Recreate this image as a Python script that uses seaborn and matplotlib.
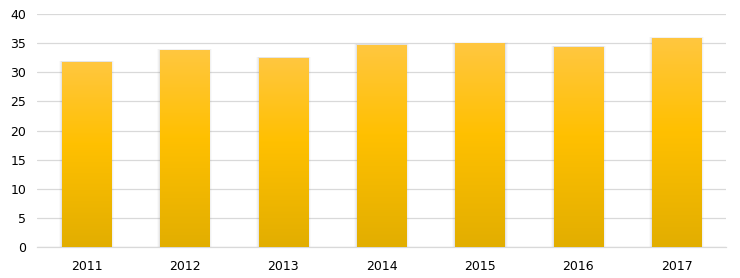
import numpy as np
import pandas as pd
import matplotlib
matplotlib.use("Agg")
import matplotlib.pyplot as plt
import seaborn as sns
from matplotlib.colors import LinearSegmentedColormap

years = ["2011", "2012", "2013", "2014", "2015", "2016", "2017"]
values = [31.8, 33.85, 32.5, 34.75, 35.0, 34.4, 35.9]
yticks = [0, 5, 10, 15, 20, 25, 30, 35, 40]

sns.set_theme(style="white")
plt.rcParams['font.family'] = ['DejaVu Sans']

df = pd.DataFrame({"year": years, "value": values})

fig = plt.figure(figsize=(7.4, 2.78), dpi=100)
ax = fig.add_axes([37.3 / 740, 1 - 247 / 278, (726 - 37.3) / 740, (247 - 14) / 278])

sns.barplot(data=df, x="year", y="value", ax=ax, width=0.5, color="#FFC000",
            edgecolor="none", zorder=3)

cmap = LinearSegmentedColormap.from_list(
    "gold", [(0.0, "#E2AE00"), (0.55, "#FFC000"), (1.0, "#FFC740")])
grad = np.linspace(0, 1, 256).reshape(-1, 1)

for p in ax.patches:
    x0, w, h = p.get_x(), p.get_width(), p.get_height()
    # soft shadow
    for i, a in enumerate([0.04, 0.07, 0.10]):
        d = (3 - i) * 0.010
        sh = plt.Rectangle((x0 - d, 0), w + 2 * d, h + d * 5, facecolor="#808080",
                           edgecolor="none", alpha=a, zorder=2)
        ax.add_patch(sh)
    im = ax.imshow(grad, extent=[x0, x0 + w, 0, h], origin="lower", aspect="auto",
                   cmap=cmap, zorder=4, interpolation="bicubic")
    im.set_clip_path(p)

ax.set_xlim(-0.5, len(years) - 0.5)
ax.set_ylim(0, 40)
ax.set_yticks(yticks)
ax.set_yticklabels([str(t) for t in yticks])
ax.yaxis.grid(True, color="#D9D9D9", linewidth=0.9, zorder=0)
ax.set_axisbelow(True)
for s in ["top", "right", "left"]:
    ax.spines[s].set_visible(False)
ax.spines["bottom"].set_color("#D9D9D9")
ax.spines["bottom"].set_linewidth(0.9)
ax.set_xlabel("")
ax.set_ylabel("")
ax.tick_params(axis="both", length=0, labelsize=9, colors="#000000")
ax.tick_params(axis="y", pad=8)
ax.tick_params(axis="x", pad=9)

fig.savefig("out.png", dpi=100)
